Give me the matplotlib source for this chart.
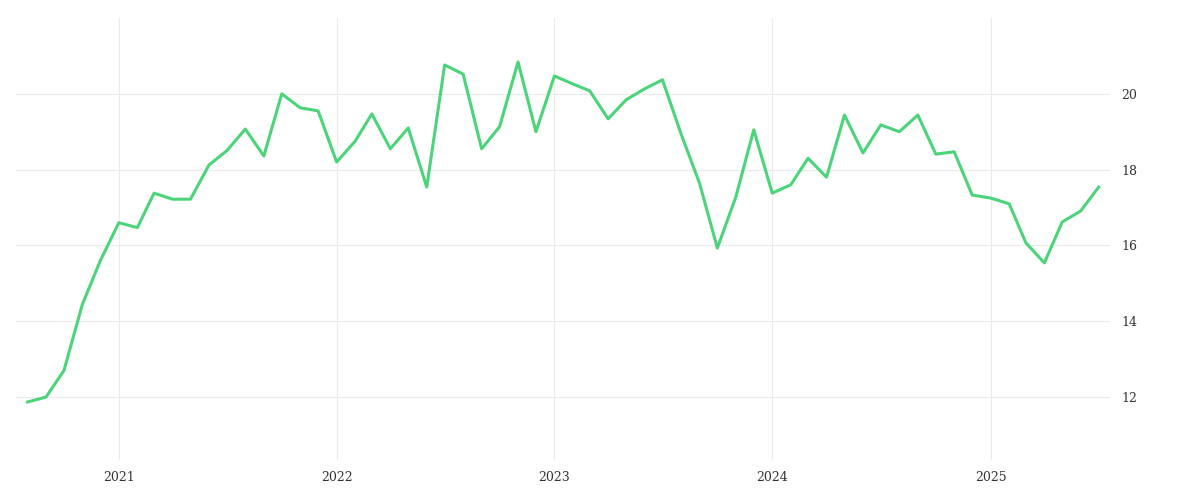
import matplotlib.pyplot as plt
import pandas as pd

dates = pd.date_range("2020-08-01", periods=60, freq="MS")
values = [11.87, 12.0, 12.7, 14.45, 15.6,
          16.6, 16.47, 17.38, 17.22, 17.22, 18.12, 18.5, 19.07, 18.36, 20.0, 19.63, 19.55,
          18.2, 18.75, 19.47, 18.55, 19.1, 17.54, 20.76, 20.52, 18.55, 19.13, 20.84, 19.0,
          20.47, 20.26, 20.08, 19.34, 19.84, 20.13, 20.37, 18.95, 17.65, 15.93, 17.28, 19.05,
          17.38, 17.6, 18.3, 17.8, 19.44, 18.44, 19.18, 19.0, 19.44, 18.41, 18.47, 17.33,
          17.25, 17.1, 16.07, 15.54, 16.62, 16.91, 17.54]
year_ticks = pd.to_datetime(["2021-01-01", "2022-01-01", "2023-01-01", "2024-01-01", "2025-01-01"])

plt.rcParams['font.family'] = ['DejaVu Serif']
fig = plt.figure(figsize=(12, 5), dpi=100)
ax = fig.add_axes([0.013, 0.08, 0.912, 0.884])
ax.plot(dates, values, color="#4cd47a", linewidth=2.2)

ax.set_xlim(pd.Timestamp("2020-07-12"), pd.Timestamp("2025-07-20"))
ax.set_ylim(10.34, 22.0)
ax.set_yticks([12, 14, 16, 18, 20])
ax.set_xticks(year_ticks)
ax.set_xticklabels([str(d.year) for d in year_ticks])
ax.yaxis.tick_right()
ax.grid(True, color="#ebebeb", linewidth=0.8)
for s in ax.spines.values():
    s.set_visible(False)
ax.tick_params(length=0, labelsize=9, colors="#333333", pad=8)
fig.savefig("out.png")
